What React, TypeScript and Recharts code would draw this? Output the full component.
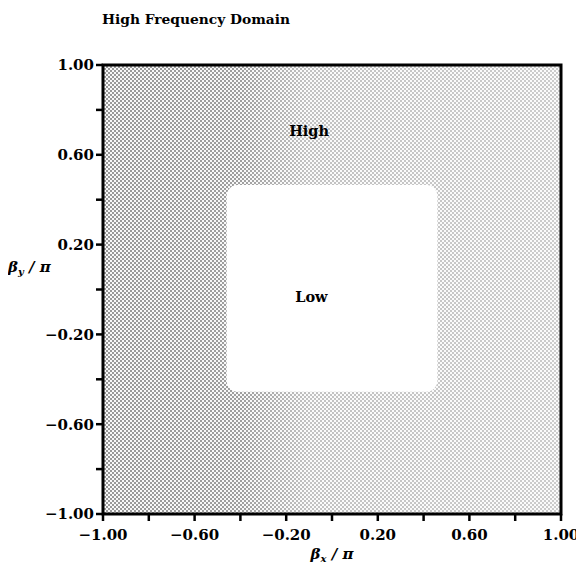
import React from "react";
import { ScatterChart, Scatter, XAxis, YAxis, ReferenceArea, Label } from "recharts";

const axisTicks = [-1, -0.8, -0.6, -0.4, -0.2, 0, 0.2, 0.4, 0.6, 0.8, 1];
const labeledTicks = [-1, -0.6, -0.2, 0.2, 0.6, 1];
const lowRegionX = [-0.46, 0.46];
const lowRegionY = [-0.455, 0.465];
const regionLabels = [
  { x: -0.1, y: 0.71, name: "High" },
  { x: -0.09, y: -0.03, name: "Low" },
];
const title = "High Frequency Domain";

const SERIF = "'DejaVu Serif', 'Liberation Serif', serif";

const fmt = (v: number) => {
  const on = labeledTicks.some((t) => Math.abs(t - v) < 1e-6);
  if (!on) return "";
  const s = Math.abs(v).toFixed(2);
  return v < 0 ? "\u2212" + s : s;
};

const tickStyle = { fontFamily: SERIF, fontWeight: 700, fontSize: 15, fill: "#000" };

const RegionText = (props: any) => {
  const { cx, cy, payload } = props;
  return (
    <text x={cx} y={cy} textAnchor="middle" dominantBaseline="central"
      fontFamily={SERIF} fontWeight={700} fontSize={14.5} fill="#000">
      {payload.name}
    </text>
  );
};

const RoundedWhite = (props: any) => {
  const { x, y, width, height } = props;
  return <rect x={x} y={y} width={width} height={height} rx={11} ry={11} fill="#ffffff" />;
};

const ShadedRect = (props: any) => {
  const { x, y, width, height } = props;
  return (
    <g>
      <rect x={x} y={y} width={width} height={height} fill="url(#dots)" />
      <rect x={x} y={y} width={width} height={height} fill="url(#fade)" />
    </g>
  );
};

export default function App() {
  return (
    <div style={{ position: "relative", width: 576, height: 560 }}>
      <div style={{ position: "absolute", left: 94, top: 3, fontFamily: SERIF, fontWeight: 700, fontSize: 13.8, color: "#000", whiteSpace: "nowrap" }}>
        {title}
      </div>
      <ScatterChart width={576} height={560} margin={{ top: 57, right: 23, bottom: 24, left: 35 }}>
        <defs>
          <pattern id="dots" width="4" height="4" patternUnits="userSpaceOnUse">
            <rect x="0" y="0" width="4" height="4" fill="#f8f8f8" />
            <rect x="0" y="0" width="2" height="2" fill="#999999" />
            <rect x="2" y="2" width="2" height="2" fill="#999999" />
          </pattern>
          <linearGradient id="fade" x1="0" y1="0" x2="1" y2="0">
            <stop offset="0" stopColor="#ffffff" stopOpacity={0} />
            <stop offset="0.3" stopColor="#ffffff" stopOpacity={0.05} />
            <stop offset="0.45" stopColor="#ffffff" stopOpacity={0.4} />
            <stop offset="1" stopColor="#ffffff" stopOpacity={0.5} />
          </linearGradient>
        </defs>
        <XAxis type="number" dataKey="x" domain={[-1, 1]} ticks={axisTicks} tickFormatter={fmt}
          interval={0} axisLine={false} tickSize={7} tickMargin={8} tickLine={{ stroke: "#000", strokeWidth: 2.5 }}
          tick={tickStyle} height={30} allowDataOverflow>
          <Label content={(p: any) => {
            const vb = p.viewBox;
            return (
              <text x={vb.x + vb.width / 2} y={vb.y + 45} textAnchor="middle" fontFamily={SERIF}
                fontWeight={700} fontStyle="italic" fontSize={15} fill="#000">
                β<tspan fontSize={10} dy={3}>x</tspan><tspan dy={-3}> / π</tspan>
              </text>
            );
          }} />
        </XAxis>
        <YAxis type="number" dataKey="y" domain={[-1, 1]} ticks={axisTicks} tickFormatter={fmt}
          interval={0} axisLine={false} tickSize={7} tickLine={{ stroke: "#000", strokeWidth: 2.5 }}
          tick={tickStyle} width={60} allowDataOverflow>
          <Label content={(p: any) => {
            const vb = p.viewBox;
            return (
              <text x={vb.x - 35} y={vb.y + vb.height / 2 - 18} textAnchor="start" fontFamily={SERIF}
                fontWeight={700} fontStyle="italic" fontSize={15} fill="#000">
                β<tspan fontSize={10} dy={3}>y</tspan><tspan dy={-3}> / π</tspan>
              </text>
            );
          }} />
        </YAxis>
        <ReferenceArea x1={-1} x2={1} y1={-1} y2={1} shape={ShadedRect} ifOverflow="visible" />
        <ReferenceArea x1={lowRegionX[0]} x2={lowRegionX[1]} y1={lowRegionY[0]} y2={lowRegionY[1]}
          shape={RoundedWhite} ifOverflow="visible" />
        <ReferenceArea x1={-1} x2={1} y1={-1} y2={1} fill="none" fillOpacity={0} stroke="#000" strokeWidth={3} ifOverflow="visible" />
        <Scatter data={regionLabels} shape={RegionText} isAnimationActive={false} />
      </ScatterChart>
    </div>
  );
}
